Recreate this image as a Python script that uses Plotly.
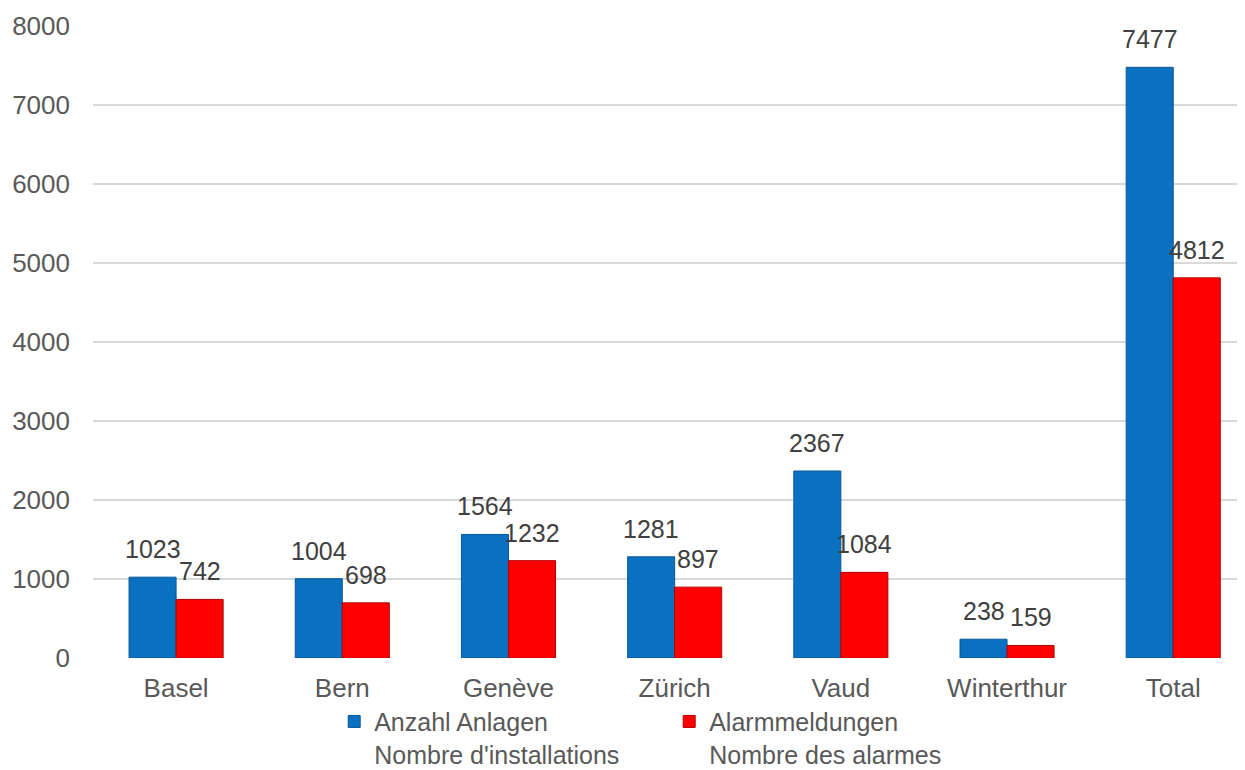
import plotly.graph_objects as go

categories = ["Basel", "Bern", "Genève", "Zürich", "Vaud", "Winterthur", "Total"]
anlagen = [1023, 1004, 1564, 1281, 2367, 238, 7477]
alarme = [742, 698, 1232, 897, 1084, 159, 4812]
series_names = ["Anzahl Anlagen<br>Nombre d'installations", "Alarmmeldungen<br>Nombre des alarmes"]
y_ticks = [0, 1000, 2000, 3000, 4000, 5000, 6000, 7000, 8000]

FONT = "Liberation Sans, Arial, sans-serif"
BAR_PX = 47  # half-group offset for labels

fig = go.Figure()
fig.add_trace(go.Bar(
    x=categories, y=anlagen, name=series_names[0],
    marker=dict(color="#0A70C0", line=dict(color="#08579A", width=1)),
))
fig.add_trace(go.Bar(
    x=categories, y=alarme, name=series_names[1],
    marker=dict(color="#FF0000", line=dict(color="#B00000", width=1)),
))

for vals, shift in ((anlagen, -BAR_PX / 2), (alarme, BAR_PX / 2)):
    for c, v in zip(categories, vals):
        fig.add_annotation(
            x=c, y=v, text=str(v), showarrow=False,
            xanchor="center", yanchor="bottom", xshift=shift, yshift=12,
            font=dict(family=FONT, size=25, color="#404040"),
        )

fig.update_layout(
    template="none",
    width=1245, height=770,
    barmode="group", bargap=0.434, bargroupgap=0,
    plot_bgcolor="white", paper_bgcolor="white",
    margin=dict(l=85, r=0, t=18, b=120, pad=0),
    font=dict(family=FONT, size=25, color="#595959"),
    showlegend=True,
    legend=dict(
        orientation="h", xref="container", yref="container",
        x=0.262, xanchor="left", y=0.103, yanchor="top",
        valign="top",
        font=dict(family=FONT, size=25, color="#595959"),
        entrywidth=290, entrywidthmode="pixels",
        bgcolor="rgba(0,0,0,0)",
    ),
)
fig.update_xaxes(
    range=[-0.5, 6.48], showgrid=False, showline=False, automargin=False,
    ticks="", ticklabelstandoff=12, tickfont=dict(family=FONT, size=26, color="#595959"),
)
fig.update_yaxes(
    range=[0, 8000], tickvals=y_ticks, showgrid=True, gridcolor="#D9D9D9", gridwidth=2,
    zeroline=False, showline=False, ticks="", automargin=False, ticklabelstandoff=22,
    tickfont=dict(family=FONT, size=26, color="#595959"),
)

fig.write_html("out.html")
